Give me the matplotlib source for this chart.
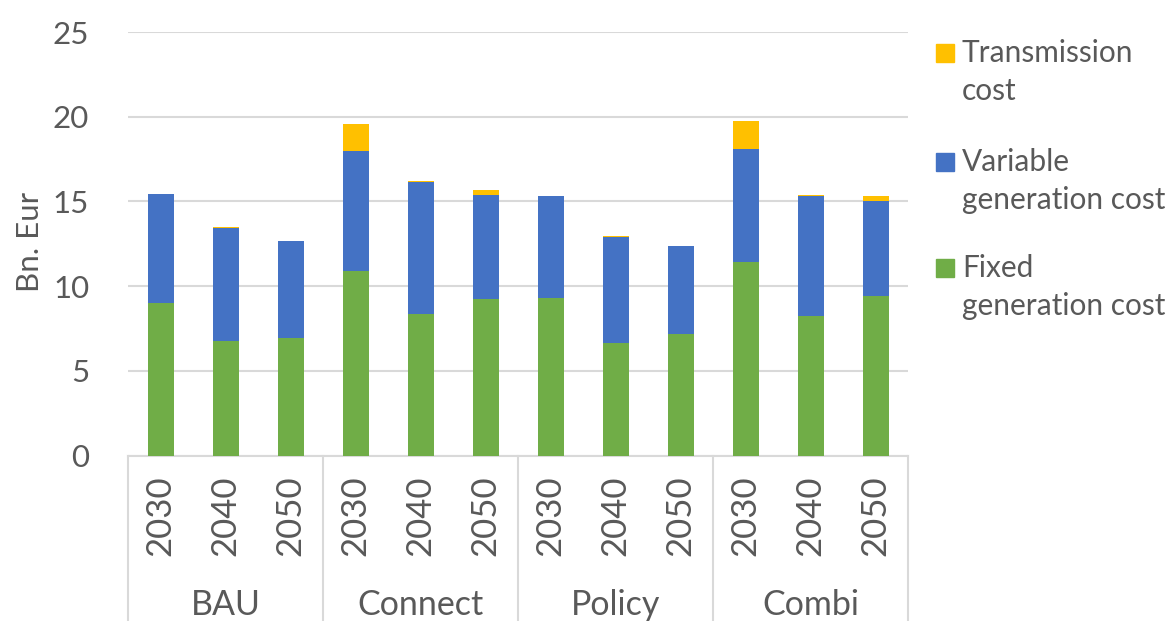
import matplotlib
matplotlib.use("Agg")
import matplotlib.pyplot as plt
from matplotlib.patches import Rectangle
import numpy as np

scenarios = ["BAU", "Connect", "Policy", "Combi"]
years = ["2030", "2040", "2050"]

# Bn. Eur (BAU 2030..2050, Connect ..., Policy ..., Combi ...)
fixed_cost = [9.03, 6.75, 6.93, 10.88, 8.38, 9.21, 9.29, 6.67, 7.20, 11.45, 8.22, 9.42]
variable_cost = [6.39, 6.70, 5.72, 7.07, 7.76, 6.19, 6.03, 6.23, 5.15, 6.62, 7.08, 5.58]
transmission_cost = [0.03, 0.03, 0.03, 1.60, 0.08, 0.25, 0.02, 0.04, 0.03, 1.65, 0.10, 0.30]

series_names = ["Transmission\ncost", "Variable\ngeneration cost", "Fixed\ngeneration cost"]

green = "#70AD47"
blue = "#4472C4"
yellow = "#FFC000"
txt = "#595959"
grid = "#D9D9D9"

plt.rcParams['font.family'] = ['Lato', 'DejaVu Sans']

W, H = 1167, 621
fig = plt.figure(figsize=(W / 100, H / 100), dpi=100)
ax = fig.add_axes([128 / W, 1 - 455.5 / H, 780 / W, 423.5 / H])

x = np.arange(len(fixed_cost))
fixed_cost = np.array(fixed_cost)
variable_cost = np.array(variable_cost)
transmission_cost = np.array(transmission_cost)

bw = 0.4
ax.bar(x, fixed_cost, bw, color=green, zorder=3)
ax.bar(x, variable_cost, bw, bottom=fixed_cost, color=blue, zorder=3)
ax.bar(x, transmission_cost, bw, bottom=fixed_cost + variable_cost, color=yellow, zorder=3)

ax.set_xlim(-0.5, len(x) - 0.5)
ax.set_ylim(0, 25)
ax.set_yticks([0, 5, 10, 15, 20, 25])
ax.yaxis.grid(True, color=grid, linewidth=1.5, zorder=0)
ax.set_axisbelow(True)
for s in ["top", "right", "left"]:
    ax.spines[s].set_visible(False)
ax.spines["bottom"].set_color(grid)
ax.spines["bottom"].set_linewidth(1.5)
ax.tick_params(axis='y', length=0, pad=28, labelsize=22.5, labelcolor=txt)
ax.set_xticks([])

# two-level category axis
axis_h = 423.5
for i, xi in enumerate(x):
    ax.text(xi, -(516 - 455.5) / axis_h, years[i % 3], rotation=90, ha='center', va='center',
            fontsize=25, color=txt, transform=ax.get_xaxis_transform())
for g, name in enumerate(scenarios):
    ax.text(g * 3 + 1, -(605 - 455.5) / axis_h, name, ha='center', va='center',
            fontsize=24.5, color=txt, transform=ax.get_xaxis_transform())
for b in [-0.5, 2.5, 5.5, 8.5, 11.5]:
    ax.plot([b, b], [0, -(H - 455.5) / axis_h], color=grid, linewidth=1.5,
            transform=ax.get_xaxis_transform(), clip_on=False)

fig.text(30 / W, 1 - 242 / H, "Bn. Eur", rotation=90, ha='center', va='center',
         fontsize=22.5, color=txt)

# legend
leg_colors = [yellow, blue, green]
leg_y = [53, 162, 268]
for name, c, ly in zip(series_names, leg_colors, leg_y):
    fig.patches.append(Rectangle((936 / W, 1 - (ly + 9) / H), 18 / W, 18 / H,
                                 transform=fig.transFigure, color=c))
    for k, line in enumerate(name.split("\n")):
        fig.text(962 / W, 1 - (ly + k * 38.5) / H, line, ha='left', va='center',
                 fontsize=21.5, color=txt)

fig.savefig("out.png", dpi=100)
